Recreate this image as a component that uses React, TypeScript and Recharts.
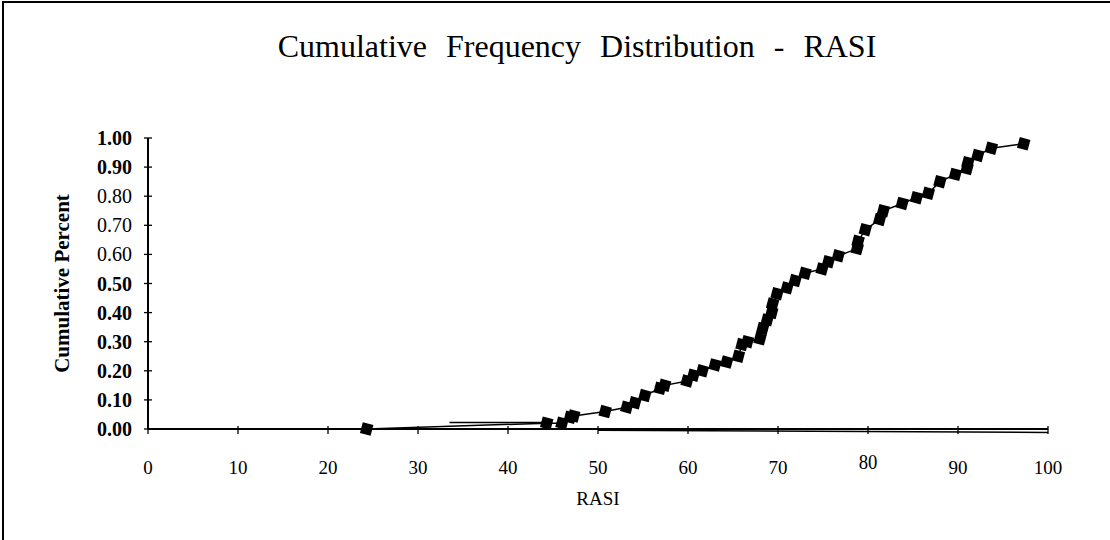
import React from 'react';
import { ComposedChart, Line, XAxis, YAxis, Label, ReferenceLine } from 'recharts';

// RASI score of each observation (sorted) and its cumulative share
const rasiValues = [
  24.3, 44.3, 46.0, 46.9, 47.3, 50.8, 53.2, 54.1, 55.2, 56.9, 57.4, 59.9, 60.6, 61.6, 63.0, 64.3,
  65.6, 66.0, 66.6, 68.0, 68.3, 68.8, 69.3, 69.4, 69.9, 71.0, 71.9, 73.0, 74.9, 75.6, 76.7, 78.8,
  78.9, 79.7, 81.3, 81.7, 83.8, 85.4, 86.7, 88.0, 89.7, 91.0, 91.1, 92.2, 93.7, 97.3,
];
const cumPercent = [
  0.0, 0.02, 0.02, 0.04, 0.045, 0.06, 0.075, 0.09, 0.115, 0.14, 0.15, 0.165, 0.185, 0.2, 0.22, 0.23,
  0.25, 0.29, 0.3, 0.31, 0.345, 0.375, 0.4, 0.43, 0.465, 0.485, 0.51, 0.535, 0.55, 0.575, 0.595, 0.62,
  0.645, 0.685, 0.72, 0.75, 0.775, 0.795, 0.81, 0.85, 0.875, 0.895, 0.915, 0.94, 0.965, 0.98,
];

const xTicks = [0, 10, 20, 30, 40, 50, 60, 70, 80, 90, 100];
const yTicks = [0, 0.1, 0.2, 0.3, 0.4, 0.5, 0.6, 0.7, 0.8, 0.9, 1.0];
const lightYTicks = [0.6, 0.7, 0.8]; // these print lighter in the scan

const chartData = rasiValues.map((r, i) => ({ rasi: r, pct: cumPercent[i] }));

const SERIF = 'Liberation Serif, serif';

const SquareDot = (props: any) => {
  const { cx, cy } = props;
  if (cx == null || cy == null) return null;
  return (
    <rect
      x={cx - 5.5}
      y={cy - 5.5}
      width={11}
      height={11}
      fill="#000"
      transform={`rotate(15 ${cx} ${cy})`}
    />
  );
};

const YTick = (props: any) => {
  const { x, y, payload } = props;
  const light = lightYTicks.includes(payload.value);
  return (
    <g>
      <line x1={x - 4} x2={x + 4} y1={y} y2={y} stroke="#000" strokeWidth={1.3} />
      <text
        x={x - 16}
        y={y}
        dy={7}
        textAnchor="end"
        fontFamily={SERIF}
        fontSize={20}
        fontWeight={light ? 400 : 700}
        fill="#000"
      >
        {payload.value.toFixed(2)}
      </text>
    </g>
  );
};

const XTick = (props: any) => {
  const { x, y, payload } = props;
  const big = payload.value === 80;
  return (
    <g>
      <line x1={x} x2={x} y1={y - 3} y2={y + 5} stroke="#000" strokeWidth={1.3} />
      <text
        x={x}
        y={y}
        dy={big ? 40 : 45}
        textAnchor="middle"
        fontFamily={SERIF}
        fontSize={big ? 22 : 19}
        transform={big ? `scale(0.85 1) translate(${(x * 0.15) / 0.85} 0)` : undefined}
        fill="#000"
      >
        {payload.value}
      </text>
    </g>
  );
};

export default function App() {
  return (
    <div style={{ position: 'absolute', left: 0, top: 0, width: 1110, height: 540, background: '#fff' }}>
      <div
        style={{
          position: 'absolute',
          left: 2,
          top: 1,
          width: 1108,
          height: 539,
          borderTop: '2px solid #000',
          borderLeft: '2px solid #000',
        }}
      />
      <svg width={1110} height={100} style={{ position: 'absolute', left: 0, top: 0 }}>
        <text
          x={577}
          y={57}
          textAnchor="middle"
          fontFamily={SERIF}
          fontSize={32}
          wordSpacing={11}
          fill="#000"
        >
          Cumulative Frequency Distribution - RASI
        </text>
      </svg>
      <ComposedChart
        width={1110}
        height={540}
        data={chartData}
        margin={{ top: 138, right: 62, bottom: 0, left: 48 }}
        style={{ position: 'absolute', left: 0, top: 0 }}
      >
        <XAxis
          dataKey="rasi"
          type="number"
          domain={[0, 100]}
          ticks={xTicks}
          interval={0}
          tickSize={0}
          tickMargin={0}
          tickLine={false}
          tick={<XTick />}
          axisLine={{ stroke: '#000', strokeWidth: 2 }}
          height={111}
        >
          <Label value="RASI" position="insideTop" offset={63} fontFamily={SERIF} fontSize={19} fill="#000" />
        </XAxis>
        <YAxis
          type="number"
          domain={[0, 1]}
          ticks={yTicks}
          interval={0}
          tickSize={0}
          tickMargin={0}
          tickLine={false}
          tick={<YTick />}
          axisLine={{ stroke: '#000', strokeWidth: 2 }}
          width={100}
        >
          <Label
            value="Cumulative Percent"
            angle={-90}
            position="insideLeft"
            offset={14}
            style={{ textAnchor: 'middle' }}
            fontFamily={SERIF}
            fontSize={21}
            fontWeight={700}
            fill="#000"
          />
        </YAxis>
        <ReferenceLine
          segment={[{ x: 33.5, y: 0.022 }, { x: 44, y: 0.022 }]}
          stroke="#000"
          strokeWidth={1.5}
          ifOverflow="visible"
        />
        <ReferenceLine
          segment={[{ x: 50, y: -0.004 }, { x: 100, y: -0.012 }]}
          stroke="#000"
          strokeWidth={1.5}
          ifOverflow="visible"
        />
        <Line
          type="linear"
          dataKey="pct"
          stroke="#000"
          strokeWidth={1.5}
          dot={<SquareDot />}
          activeDot={false}
          isAnimationActive={false}
        />
      </ComposedChart>
    </div>
  );
}
